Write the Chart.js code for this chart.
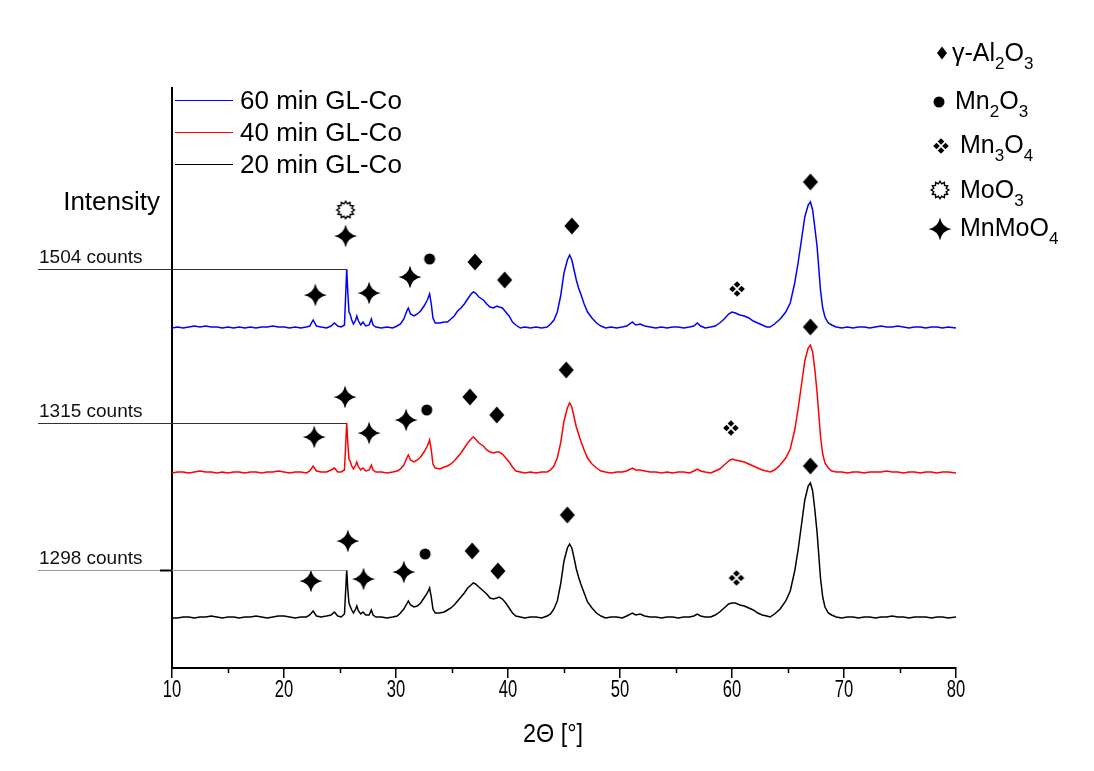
<!DOCTYPE html>
<html>
<head>
<meta charset="utf-8">
<title>XRD GL-Co</title>
<script src="https://cdn.jsdelivr.net/npm/chart.js@4.4.1/dist/chart.umd.min.js"></script>
<style>
  html, body { margin: 0; padding: 0; background: #fff; }
  #wrap { width: 1094px; height: 771px; }
</style>
</head>
<body>
<div id="wrap"><canvas id="xrd" width="1094" height="771"></canvas></div>
<script>
// 2theta grid (deg), one row per region of the pattern
const twoTheta = [
  10, 10.5, 11, 11.5, 12, 12.5, 13, 13.5, 14, 14.5, 15, 15.5, 16, 16.5, 17, 17.5, 18, 18.5, 19, 19.5, 20, 20.5, 21, 21.5, 22, 22.3, 22.6, 22.9, 23.3, 23.8, 24.2, 24.5, 24.8, 25.1,
  25.4, 25.6, 25.7, 25.8, 25.9, 26.05, 26.2, 26.4, 26.5, 26.65, 26.85, 27.05, 27.3, 27.6, 27.8, 27.95, 28.2,
  28.7, 29.2, 29.7, 30.1, 30.4, 30.7, 31.0, 31.1, 31.3, 31.6, 31.9, 32.2, 32.5, 32.8, 33.0, 33.15, 33.3, 33.5, 33.9, 34.3, 34.6, 34.9, 35.2, 35.5, 35.8, 36.1, 36.4, 36.7, 36.9, 37.1, 37.4, 37.8, 38.1, 38.4, 38.7, 39.0, 39.2, 39.5, 39.8, 40.1, 40.4, 40.7, 41.1, 41.5, 42.0, 42.5, 43.0,
  43.5, 43.8, 44.1, 44.4, 44.7, 45.0, 45.3, 45.5, 45.7, 45.9, 46.1, 46.3, 46.5, 46.8, 47.1, 47.5, 47.9, 48.3, 48.7,
  49.2, 49.7, 50.2, 50.6, 51.1, 51.4, 51.8, 52.2, 52.7, 53.2, 53.7, 54.2, 54.7, 55.2, 55.7, 56.2, 56.6, 56.9, 57.2, 57.6, 58.1, 58.5, 58.9, 59.3, 59.7, 60.0, 60.3, 60.7, 61.1, 61.5, 61.9, 62.3, 62.7, 63.1, 63.4,
  63.8, 64.3, 64.8, 65.2, 65.6, 65.9, 66.2, 66.5, 66.8, 67.0, 67.2, 67.4, 67.6, 67.9, 68.1, 68.3, 68.6, 68.9, 69.3, 69.8,
  70.3, 70.8, 71.3, 71.8, 72.3, 72.8, 73.3, 73.8, 74.3, 74.8, 75.3, 75.8, 76.3, 76.8, 77.3, 77.8, 78.3, 78.8, 79.3, 80
];

// intensities above each pattern's own baseline (a.u.)
const int60 = [
  0, 1, 0, 1, 2, 1, 2, 1, 1, 0, 1, 0, 1, 0, 1, 0, 1, 1, 2, 1, 1, 0, 1, 0, 1, 2, 8, 2, 1, 0, 2, 5, 2, 1,
  3, 59, 35, 16, 14, 8, 4, 8, 12, 7, 3, 6, 2, 3, 9, 3, 1,
  0, 1, 0, 2, 4, 9, 18, 20, 14, 12, 14, 17, 22, 28, 34, 24, 10, 5, 5, 6, 6, 9, 12, 17, 20, 24, 29, 34, 36, 35, 31, 28, 24, 21, 20, 22, 21, 20, 16, 12, 6, 3, 0, 1, 0, 1, 0,
  1, 4, 8, 16, 32, 55, 68, 73, 68, 58, 48, 40, 34, 24, 16, 10, 5, 2, 0,
  1, 0, 1, 2, 6, 3, 4, 2, 1, 0, 1, 0, 1, 1, 0, 1, 2, 5, 2, 0, 1, 2, 5, 9, 14, 16, 15, 13, 12, 10, 7, 5, 3, 1, 1,
  4, 9, 16, 25, 45, 65, 88, 111, 123, 126, 118, 100, 81, 38, 20, 11, 5, 3, 1, 0,
  1, 0, 1, 1, 0, 1, 2, 1, 1, 2, 1, 0, 1, 1, 0, 1, 1, 0, 1, 0
];
const int40 = [
  0, 1, 1, 0, 1, 2, 1, 1, 0, 1, 0, 1, 1, 0, 1, 1, 0, 1, 1, 2, 1, 0, 1, 1, 0, 2, 7, 2, 1, 1, 3, 5, 1, 1,
  3, 50, 30, 14, 12, 7, 4, 8, 11, 6, 3, 5, 2, 3, 8, 3, 1,
  1, 0, 1, 2, 4, 8, 16, 18, 13, 11, 13, 16, 21, 27, 33, 23, 9, 5, 4, 6, 7, 9, 12, 16, 20, 25, 30, 34, 36, 34, 30, 27, 23, 21, 20, 21, 21, 19, 15, 11, 6, 2, 1, 0, 1, 0, 1,
  1, 3, 7, 15, 30, 52, 65, 70, 66, 56, 46, 39, 32, 23, 15, 9, 5, 2, 1,
  0, 1, 1, 2, 5, 3, 3, 2, 1, 1, 0, 1, 0, 1, 1, 0, 2, 4, 2, 1, 0, 2, 4, 8, 12, 14, 13, 12, 11, 9, 7, 5, 3, 2, 1,
  3, 8, 15, 24, 43, 64, 88, 112, 125, 128, 121, 103, 80, 37, 19, 10, 5, 2, 1, 1,
  0, 1, 1, 0, 1, 1, 1, 2, 1, 1, 0, 1, 1, 0, 1, 1, 0, 1, 1, 0
];
const int20 = [
  0, 0, 1, 1, 0, 1, 1, 2, 1, 0, 1, 1, 0, 1, 1, 2, 1, 0, 1, 2, 2, 1, 0, 1, 1, 3, 7, 2, 1, 2, 3, 6, 2, 1,
  4, 48, 28, 15, 12, 8, 5, 9, 12, 7, 4, 6, 3, 3, 8, 3, 1,
  1, 0, 1, 2, 5, 9, 15, 17, 13, 11, 12, 15, 20, 25, 30, 21, 9, 5, 5, 6, 8, 10, 13, 17, 21, 25, 30, 33, 35, 34, 31, 27, 24, 20, 19, 20, 21, 19, 15, 10, 5, 2, 1, 0, 1, 1, 0,
  2, 4, 9, 17, 34, 57, 70, 74, 70, 60, 49, 41, 34, 25, 16, 10, 5, 2, 0,
  1, 1, 0, 2, 5, 3, 4, 2, 1, 1, 0, 1, 1, 0, 1, 1, 2, 4, 2, 1, 1, 3, 6, 10, 14, 15, 15, 13, 12, 10, 8, 5, 3, 2, 1,
  4, 9, 17, 27, 47, 68, 93, 118, 132, 135, 127, 108, 85, 40, 21, 11, 5, 3, 1, 0,
  1, 1, 0, 1, 1, 0, 1, 1, 2, 1, 1, 0, 1, 1, 1, 0, 1, 1, 0, 1
];

// vertical stacking offsets of the three patterns
const offset60 = 340;
const offset40 = 195;
const offset20 = 50;

const seriesLabels = ['60 min GL-Co', '40 min GL-Co', '20 min GL-Co'];
const peakCounts = ['1504 counts', '1315 counts', '1298 counts'];
const xTicks = [10, 20, 30, 40, 50, 60, 70, 80];

// phase markers [2theta, intensity incl. offset]
const al2o3Marks = [[67.0, 486], [45.7, 442], [37.05, 406], [39.7, 388], [67.0, 341], [45.2, 298], [36.6, 271], [39.0, 253], [67.0, 202], [45.3, 153], [36.8, 117], [39.1, 97]];
const mn2o3Marks = [[33.0, 409], [32.75, 258], [32.6, 114]];
const mn3o4Marks = [[60.45, 379], [59.9, 240], [60.4, 90]];
const moo3Marks = [[25.5, 458]];
const mnmoo4Marks = [[25.5, 432], [22.8, 373], [27.6, 375], [31.25, 391], [25.45, 271], [22.7, 231], [27.6, 235], [30.9, 248], [25.7, 127], [22.4, 87], [27.1, 89], [30.7, 96]];

const FONT = '"Liberation Sans", Arial, sans-serif';

// --- symbol bitmaps used as point styles ---
function symbol(size, draw) {
  const c = document.createElement('canvas');
  c.width = size; c.height = size;
  const g = c.getContext('2d');
  g.translate(size / 2, size / 2);
  g.fillStyle = '#000';
  g.strokeStyle = '#000';
  draw(g);
  return c;
}
function diamond(g, hw, hh) {
  g.beginPath();
  g.moveTo(0, -hh); g.lineTo(hw, 0); g.lineTo(0, hh); g.lineTo(-hw, 0);
  g.closePath(); g.fill();
}
const diamondBig = symbol(20, g => diamond(g, 7.5, 8.5));
const diamondSmall = symbol(16, g => diamond(g, 5, 6.5));
const dotSym = symbol(14, g => { g.beginPath(); g.arc(0, 0, 5.5, 0, Math.PI * 2); g.fill(); });
const cloverSym = symbol(18, g => {
  [[0, -4.5], [4.5, 0], [0, 4.5], [-4.5, 0]].forEach(([dx, dy]) => {
    g.save(); g.translate(dx, dy); diamond(g, 3.3, 3.3); g.restore();
  });
});
const sunSym = symbol(22, g => {
  g.beginPath();
  for (let i = 0; i < 24; i++) {
    const a = i * Math.PI / 12 - Math.PI / 2;
    const r = i % 2 === 0 ? 8.8 : 6.4;
    const px = Math.cos(a) * r, py = Math.sin(a) * r;
    if (i === 0) g.moveTo(px, py); else g.lineTo(px, py);
  }
  g.closePath();
  g.fillStyle = '#fff'; g.fill();
  g.lineWidth = 1.4; g.stroke();
});
const starSym = symbol(26, g => {
  const R = 11.5, k = 1.8;
  g.beginPath();
  g.moveTo(0, -R);
  g.quadraticCurveTo(k, -k, R, 0);
  g.quadraticCurveTo(k, k, 0, R);
  g.quadraticCurveTo(-k, k, -R, 0);
  g.quadraticCurveTo(-k, -k, 0, -R);
  g.closePath(); g.fill();
});

const toPts = (vals, off) => twoTheta.map((t, i) => ({ x: t, y: vals[i] + off }));
const markPts = arr => arr.map(([x, y]) => ({ x, y }));

function lineSet(label, vals, off, color) {
  return {
    label, data: toPts(vals, off), offsetY: off, raw: vals,
    showLine: true, borderColor: color, borderWidth: 1.5,
    pointRadius: 0, tension: 0, fill: false, order: 2
  };
}
function markSet(label, arr, img) {
  return { label, data: markPts(arr), showLine: false, pointStyle: img, pointRadius: 6, order: 1 };
}

// decorations: legends, reference lines, minor ticks, tick labels, axis title
const decor = {
  id: 'decor',
  afterDraw(chart) {
    const ctx = chart.ctx;
    const xs = chart.scales.x, ys = chart.scales.y;
    ctx.save();

    // minor ticks
    ctx.strokeStyle = '#000'; ctx.lineWidth = 1.5;
    for (let v = 15; v < 80; v += 10) {
      const px = Math.round(xs.getPixelForValue(v)) + 0.5;
      ctx.beginPath(); ctx.moveTo(px, ys.bottom); ctx.lineTo(px, ys.bottom + 5); ctx.stroke();
    }

    // narrow tick labels
    ctx.fillStyle = '#000';
    ctx.font = '23px ' + FONT;
    ctx.textAlign = 'center';
    ctx.textBaseline = 'middle';
    xs.ticks.forEach(t => {
      ctx.save();
      ctx.translate(xs.getPixelForValue(t.value), 691);
      ctx.scale(0.72, 1);
      ctx.fillText(String(t.value), 0, 0);
      ctx.restore();
    });

    // x-axis title
    ctx.save();
    ctx.translate(553, 742);
    ctx.scale(0.9, 1);
    ctx.textBaseline = 'alphabetic';
    ctx.font = '26px ' + FONT;
    ctx.fillText('2\u0398 [\u00B0]', 0, 0);
    ctx.restore();

    // series legend
    const lines = chart.data.datasets.slice(0, 3);
    ctx.font = '26px ' + FONT;
    ctx.textBaseline = 'middle';
    ctx.textAlign = 'left';
    lines.forEach((ds, i) => {
      const y = 100 + i * 32 + 0.5;
      ctx.strokeStyle = ds.borderColor; ctx.lineWidth = 1;
      ctx.beginPath(); ctx.moveTo(175, y); ctx.lineTo(233, y); ctx.stroke();
      ctx.fillStyle = '#000';
      ctx.fillText(ds.label, 240, y + 1);
    });

    // y-axis label
    ctx.textBaseline = 'alphabetic';
    ctx.textAlign = 'right';
    ctx.fillText('Intensity', 160, 210);

    // reference lines at the strongest low-angle reflection
    const refColors = ['#333', '#333', '#999'];
    lines.forEach((ds, i) => {
      let best = 0;
      twoTheta.forEach((t, j) => { if (t < 28 && ds.raw[j] > ds.raw[best]) best = j; });
      const yPix = Math.round(ys.getPixelForValue(ds.raw[best] + ds.offsetY)) + 0.5;
      const xEnd = xs.getPixelForValue(twoTheta[best]);
      ctx.strokeStyle = refColors[i]; ctx.lineWidth = 1;
      ctx.beginPath(); ctx.moveTo(38, yPix); ctx.lineTo(xEnd, yPix); ctx.stroke();
      ctx.fillStyle = '#111';
      ctx.font = '19px ' + FONT;
      ctx.textAlign = 'left';
      ctx.fillText(peakCounts[i], 39, yPix - 7);
      if (i === 2) {
        ctx.strokeStyle = '#000'; ctx.lineWidth = 2;
        ctx.beginPath(); ctx.moveTo(160, yPix); ctx.lineTo(xs.left, yPix); ctx.stroke();
      }
    });

    // phase legend
    const phases = [
      [diamondSmall, 942, 53, 952, 61, [['\u03B3-Al', 0], ['2', 1], ['O', 0], ['3', 1]]],
      [dotSym, 939, 102, 955, 109, [['Mn', 0], ['2', 1], ['O', 0], ['3', 1]]],
      [cloverSym, 941, 146, 960, 153, [['Mn', 0], ['3', 1], ['O', 0], ['4', 1]]],
      [sunSym, 940, 190, 960, 198, [['MoO', 0], ['3', 1]]],
      [starSym, 940, 229, 960, 236, [['MnMoO', 0], ['4', 1]]]
    ];
    ctx.fillStyle = '#000';
    ctx.textAlign = 'left';
    phases.forEach(([img, sx, sy, tx, ty, parts]) => {
      ctx.drawImage(img, sx - img.width / 2, sy - img.height / 2);
      let x = tx;
      parts.forEach(([s, sub]) => {
        ctx.font = (sub ? '17px ' : '25px ') + FONT;
        ctx.fillText(s, x, sub ? ty + 8 : ty);
        x += ctx.measureText(s).width;
      });
    });
    ctx.restore();
  }
};

new Chart(document.getElementById('xrd'), {
  type: 'scatter',
  data: {
    datasets: [
      lineSet(seriesLabels[0], int60, offset60, '#0000ff'),
      lineSet(seriesLabels[1], int40, offset40, '#ff0000'),
      lineSet(seriesLabels[2], int20, offset20, '#000000'),
      markSet('gamma-Al2O3', al2o3Marks, diamondBig),
      markSet('Mn2O3', mn2o3Marks, dotSym),
      markSet('Mn3O4', mn3o4Marks, cloverSym),
      markSet('MoO3', moo3Marks, sunSym),
      markSet('MnMoO4', mnmoo4Marks, starSym)
    ]
  },
  options: {
    responsive: false,
    animation: false,
    events: [],
    layout: { padding: { top: 88, right: 138, left: 0, bottom: 0 } },
    plugins: { legend: { display: false }, tooltip: { enabled: false } },
    scales: {
      x: {
        type: 'linear', min: 10, max: 80,
        afterFit: s => { s.height = 103; },
        afterBuildTicks: s => { s.ticks = xTicks.map(v => ({ value: v })); },
        border: { display: true, color: '#000', width: 2 },
        grid: { display: true, drawOnChartArea: false, drawTicks: true, tickLength: 10, color: '#000', lineWidth: 1.5 },
        ticks: { display: false }
      },
      y: {
        min: 0, max: 580,
        afterFit: s => { s.width = 172; },
        ticks: { display: false },
        grid: { display: false },
        border: { display: true, color: '#000', width: 2 }
      }
    }
  },
  plugins: [decor]
});
</script>
</body>
</html>
